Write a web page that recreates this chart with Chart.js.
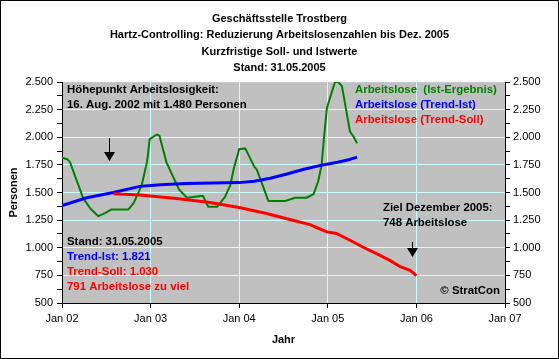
<!DOCTYPE html>
<html lang="de">
<head>
    <meta charset="UTF-8">
    <title>Geschäftsstelle Trostberg</title>
    <script src="https://cdn.jsdelivr.net/npm/chart.js"></script>
    <style>
        html, body { margin: 0; padding: 0; background: white; }
        #wrap { width: 559px; height: 359px; }
    </style>
</head>
<body>
    <div id="wrap"><canvas id="chart"></canvas></div>

    <script>
        // Titelzeilen
        const titleLines = [
            "Geschäftsstelle Trostberg",
            "Hartz-Controlling: Reduzierung Arbeitslosenzahlen bis Dez. 2005",
            "Kurzfristige Soll- und Istwerte",
            "Stand: 31.05.2005"
        ];

        // Arbeitslose (Ist-Ergebnis) - x in Jahren
        const istYears = [2002.00, 2002.06, 2002.09, 2002.24, 2002.32, 2002.41, 2002.49, 2002.56, 2002.75, 2002.81,
                          2002.90, 2002.96, 2002.99, 2003.07, 2003.10, 2003.18, 2003.28, 2003.32, 2003.41, 2003.50,
                          2003.59, 2003.65, 2003.75, 2003.84, 2003.90, 2003.94, 2004.00, 2004.07, 2004.17, 2004.20,
                          2004.27, 2004.33, 2004.52, 2004.63, 2004.76, 2004.84, 2004.89, 2004.93, 2004.96, 2004.99,
                          2005.08, 2005.12, 2005.16, 2005.19, 2005.25, 2005.29, 2005.33];
        const istValues = [1816, 1802, 1775, 1447, 1356, 1286, 1316, 1347, 1347, 1407,
                           1568, 1780, 1984, 2026, 2014, 1771, 1598, 1529, 1453, 1462,
                           1471, 1371, 1371, 1462, 1568, 1720, 1895, 1898, 1735, 1705,
                           1553, 1423, 1423, 1453, 1453, 1486, 1598, 1750, 2023, 2265,
                           2500, 2500, 2462, 2325, 2053, 2007, 1947];

        // Arbeitslose (Trend-Ist)
        const trendIstYears = [2002.00, 2002.28, 2002.58, 2002.88, 2003.11, 2003.40, 2003.70, 2004.00, 2004.17,
                               2004.35, 2004.54, 2004.73, 2004.92, 2005.11, 2005.25, 2005.33];
        const trendIstValues = [1383, 1453, 1500, 1556, 1570, 1583, 1587, 1590, 1602,
                                1629, 1668, 1711, 1746, 1774, 1800, 1821];

        // Arbeitslose (Trend-Soll)
        const trendSollYears = [2002.58, 2002.88, 2003.29, 2003.67, 2004.00, 2004.31, 2004.56, 2004.80, 2004.84,
                                2004.99, 2005.10, 2005.25, 2005.40, 2005.55, 2005.70, 2005.81, 2005.93, 2006.00];
        const trendSollValues = [1490, 1477, 1447, 1410, 1365, 1311, 1258, 1210, 1195,
                                 1144, 1129, 1068, 1005, 947, 886, 832, 795, 748];

        // Achsen
        const yMin = 500, yMax = 2500, yMajor = 250, yMinor = 125;
        const xYears = [2002, 2003, 2004, 2005, 2006, 2007];

        function pts(xs, ys) { return xs.map((x, i) => ({ x: x, y: ys[i] })); }

        function deNum(v) {
            if (v < 1000) return String(v);
            return Math.floor(v / 1000) + "." + String(v % 1000).padStart(3, "0");
        }

        const FONT = "'Liberation Sans', Arial, sans-serif";
        const GRID = "#CCFFFF";

        function text(ctx, s, x, y, color, align) {
            ctx.fillStyle = color;
            ctx.textAlign = align || "left";
            ctx.fillText(s, x, y);
        }

        function arrow(ctx, x, y1, y2) {
            ctx.strokeStyle = "black";
            ctx.fillStyle = "black";
            ctx.lineWidth = 1;
            ctx.beginPath();
            ctx.moveTo(x + 0.5, y1);
            ctx.lineTo(x + 0.5, y2 - 6);
            ctx.stroke();
            ctx.beginPath();
            ctx.moveTo(x - 5, y2 - 9);
            ctx.lineTo(x + 6, y2 - 9);
            ctx.lineTo(x + 0.5, y2);
            ctx.closePath();
            ctx.fill();
        }

        const decor = {
            id: "decor",
            beforeDraw(chart) {
                const { ctx, chartArea: a } = chart;
                ctx.save();
                ctx.fillStyle = "white";
                ctx.fillRect(0, 0, chart.width, chart.height);
                ctx.fillStyle = "#C0C0C0";
                ctx.fillRect(a.left, a.top, a.right - a.left, a.bottom - a.top);
                ctx.restore();
            },
            afterDraw(chart) {
                const { ctx } = chart;
                ctx.save();
                ctx.font = "bold 11.4px " + FONT;
                ctx.textBaseline = "middle";

                // Legende
                text(ctx, "Arbeitslose  (Ist-Ergebnis)", 355, 90, "#008000");
                text(ctx, "Arbeitslose (Trend-Ist)", 355, 105, "#0000FF");
                text(ctx, "Arbeitslose (Trend-Soll)", 355, 120, "#FF0000");

                // Hinweise
                text(ctx, "Höhepunkt Arbeitslosigkeit:", 67, 90, "black");
                text(ctx, "16. Aug. 2002 mit 1.480 Personen", 67, 105, "black");
                arrow(ctx, 109, 138, 161);

                text(ctx, "Stand: 31.05.2005", 67, 242, "black");
                text(ctx, "Trend-Ist: 1.821", 67, 257, "#0000FF");
                text(ctx, "Trend-Soll: 1.030", 67, 272, "#FF0000");
                text(ctx, "791 Arbeitslose zu viel", 67, 287, "#FF0000");

                text(ctx, "Ziel Dezember 2005:", 383, 208, "black");
                text(ctx, "748 Arbeitslose", 383, 223, "black");
                arrow(ctx, 412, 242, 257);

                text(ctx, "© StratCon", 500, 291, "black", "right");

                // Rahmen
                ctx.strokeStyle = "black";
                ctx.lineWidth = 1;
                ctx.strokeRect(0.5, 0.5, chart.width - 1, chart.height - 1);
                ctx.restore();
            }
        };

        const yTicks = {
            stepSize: yMinor,
            autoSkip: false,
            color: "black",
            font: { family: FONT, size: 11 },
            callback: v => (v % yMajor === 0 ? deNum(v) : "")
        };

        new Chart(document.getElementById("chart"), {
            type: "line",
            data: {
                datasets: [
                    { label: "Arbeitslose  (Ist-Ergebnis)", data: pts(istYears, istValues),
                      borderColor: "#008000", borderWidth: 2, order: 3 },
                    { label: "Arbeitslose (Trend-Ist)", data: pts(trendIstYears, trendIstValues),
                      borderColor: "#0000FF", borderWidth: 3, order: 2 },
                    { label: "Arbeitslose (Trend-Soll)", data: pts(trendSollYears, trendSollValues),
                      borderColor: "#FF0000", borderWidth: 3, order: 1 }
                ]
            },
            options: {
                responsive: true,
                maintainAspectRatio: false,
                animation: false,
                layout: { padding: { left: 0, right: 0, top: 0, bottom: 0 } },
                elements: { point: { radius: 0 }, line: { tension: 0, fill: false, borderJoinStyle: "round" } },
                plugins: {
                    legend: { display: false },
                    tooltip: { enabled: false },
                    title: {
                        display: true,
                        text: titleLines,
                        color: "black",
                        font: { family: FONT, size: 11, weight: "bold", lineHeight: 1.48 },
                        padding: { top: 11, bottom: 6 }
                    }
                },
                scales: {
                    x: {
                        type: "linear",
                        min: xYears[0],
                        max: xYears[xYears.length - 1],
                        afterBuildTicks: s => { s.ticks = xYears.map(v => ({ value: v })); },
                        ticks: {
                            color: "black",
                            padding: 4,
                            maxRotation: 0,
                            font: { family: FONT, size: 11 },
                            callback: v => "Jan " + String(v).slice(2)
                        },
                        grid: { color: GRID, tickColor: "black", tickLength: 5 },
                        border: { color: "black", width: 1 },
                        title: { display: true, text: "Jahr", color: "black",
                                 font: { family: FONT, size: 11, weight: "bold" }, padding: { top: 4, bottom: 12 } },
                        afterFit: s => { s.height = 56; }
                    },
                    y: {
                        position: "left",
                        min: yMin, max: yMax,
                        ticks: Object.assign({ padding: 4 }, yTicks),
                        grid: {
                            color: c => (c.tick && c.tick.value % yMajor === 0 && c.tick.value !== yMin && c.tick.value !== yMax ? GRID : "rgba(0,0,0,0)"),
                            tickColor: "black",
                            tickLength: 5
                        },
                        border: { color: "black", width: 1 },
                        title: { display: true, text: "Personen", color: "black",
                                 font: { family: FONT, size: 11, weight: "bold" }, padding: { top: 7, bottom: 0 } },
                        afterFit: s => { s.width = 62; }
                    },
                    y2: {
                        position: "right",
                        min: yMin, max: yMax,
                        ticks: Object.assign({ padding: 3 }, yTicks),
                        grid: { drawOnChartArea: false, tickColor: "black", tickLength: 5 },
                        border: { color: "black", width: 1 },
                        afterFit: s => { s.width = 54; }
                    }
                }
            },
            plugins: [decor]
        });
    </script>
</body>
</html>
